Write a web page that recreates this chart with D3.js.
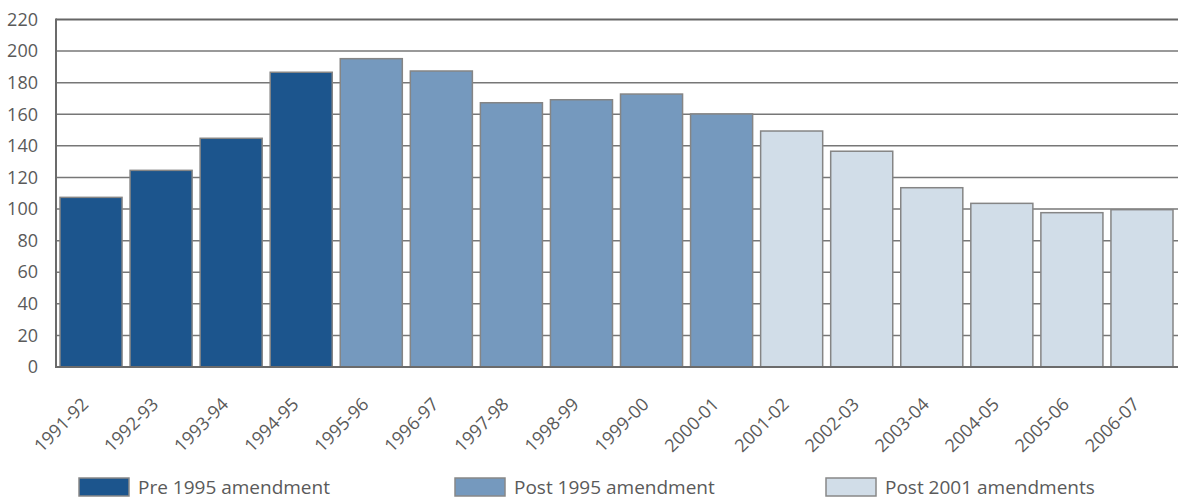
<!DOCTYPE html>
<html>
<head>
<meta charset="utf-8">
<script src="https://cdn.jsdelivr.net/npm/d3@7"></script>
<style>
  html, body { margin: 0; padding: 0; background: #fff; }
  svg { display: block; }
  text { font-family: "Open Sans", "Noto Sans", sans-serif; fill: #5a5a5a; }
</style>
</head>
<body>
<svg id="chart" width="1178" height="501"></svg>
<script>
const categories = ["1991-92","1992-93","1993-94","1994-95","1995-96","1996-97","1997-98","1998-99","1999-00","2000-01","2001-02","2002-03","2003-04","2004-05","2005-06","2006-07"];
const values = [107.4,124.5,144.8,186.6,195.2,187.4,167.3,169.2,172.8,160.2,149.4,136.6,113.5,103.6,97.7,99.6];
const periods = [0,0,0,0,1,1,1,1,1,1,2,2,2,2,2,2];
const seriesNames = ["Pre 1995 amendment","Post 1995 amendment","Post 2001 amendments"];
const seriesColors = ["#1c558d","#7599be","#d1dde8"];
const yTicks = [0,20,40,60,80,100,120,140,160,180,200,220];

(function () {
const svg = d3.select("#chart");
const pl = 56, pr = 1178, pt = 19.5, pb = 367;

const x = d3.scaleBand().domain(categories).range([pl, 1177]).paddingInner(8/70).paddingOuter(4/70);
const y = d3.scaleLinear().domain([0, 220]).range([pb, pt]);

// gridlines
svg.append("g").selectAll("line").data(yTicks.filter(d => d > 0)).join("line")
  .attr("x1", pl).attr("x2", pr)
  .attr("y1", d => y(d)).attr("y2", d => y(d))
  .attr("stroke", d => d === 220 ? "#666" : "#777")
  .attr("stroke-width", d => d === 220 ? 2 : 1.5);

// bars
svg.append("g").selectAll("rect").data(values).join("rect")
  .attr("x", (d, i) => x(categories[i]))
  .attr("width", x.bandwidth())
  .attr("y", d => y(d))
  .attr("height", d => pb - y(d))
  .attr("fill", (d, i) => seriesColors[periods[i]])
  .attr("stroke", "#858585")
  .attr("stroke-width", 1.5);

// y axis
const yAxis = d3.axisLeft(y).tickValues(yTicks).tickSize(0).tickPadding(18);
const gy = svg.append("g").attr("transform", `translate(${pl},0)`).call(yAxis);
gy.select(".domain").remove();
gy.selectAll("text").style("font-size", "18px").attr("fill", "#5a5a5a").attr("font-family", null);

// x axis
const xAxis = d3.axisBottom(x).tickSize(0).tickPadding(0);
const gx = svg.append("g").attr("transform", `translate(0,${pb})`).call(xAxis);
gx.select(".domain").remove();
gx.selectAll("text")
  .style("font-size", "18px").attr("fill", "#5a5a5a").attr("font-family", null)
  .attr("text-anchor", "end")
  .attr("dy", "0.35em")
  .attr("transform", "translate(-6,34) rotate(-45)")
  .attr("y", 0).attr("x", 0);

// axis lines
svg.append("line").attr("x1", pl).attr("x2", pl).attr("y1", pt - 1).attr("y2", pb + 1)
  .attr("stroke", "#6b6b6b").attr("stroke-width", 2);
svg.append("line").attr("x1", pl - 1).attr("x2", pr).attr("y1", pb).attr("y2", pb)
  .attr("stroke", "#6b6b6b").attr("stroke-width", 2);

// legend
const legendX = [79, 455, 826];
const lg = svg.append("g").selectAll("g").data(seriesNames).join("g")
  .attr("transform", (d, i) => `translate(${legendX[i]},478)`);
lg.append("rect").attr("width", 50).attr("height", 18)
  .attr("fill", (d, i) => seriesColors[i]).attr("stroke", "#888").attr("stroke-width", 1.5);
lg.append("text").attr("x", 59).attr("y", 16).style("font-size", "19px").text(d => d);
})();
</script>
</body>
</html>
